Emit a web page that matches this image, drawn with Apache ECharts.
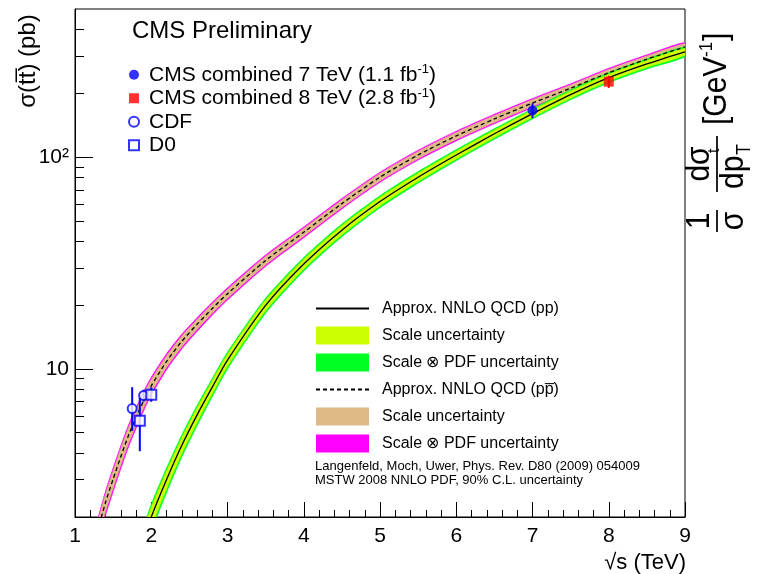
<!DOCTYPE html>
<html>
<head>
<meta charset="utf-8">
<script src="https://cdn.jsdelivr.net/npm/echarts@6/dist/echarts.min.js"></script>
<style>
  html, body { margin: 0; padding: 0; background: #fff; }
  #chart { width: 769px; height: 574px; }
</style>
</head>
<body>
<div id="chart"></div>
<script>
// Approx. NNLO QCD, p-pbar collisions: sqrt(s) in TeV, cross section in pb
const ppbarX = [1.25, 1.3, 1.4, 1.5, 1.6, 1.7, 1.8, 1.9, 2.0, 2.2, 2.4, 2.6, 2.8, 3.0, 3.5, 4.0, 4.5, 5.0, 5.5, 6.0, 6.5, 7.0, 7.5, 8.0, 8.5, 9.0];
const ppbarXsec = [1.48, 1.74, 2.34, 3.02, 3.85, 4.84, 5.89, 7.08, 8.32, 10.84, 13.49, 16.22, 19.28, 22.65, 32.5, 44.2, 60.3, 80.4, 102.3, 125.9, 151.4, 179.9, 211.3, 250.0, 289.7, 331.1];
// half-widths of the uncertainty bands, in percent of the central value
const ppbarScalePct = [9.4, 9.4, 9.4, 9.4, 9, 8.6, 8.1, 7.6, 7, 6.3, 5.8, 5.4, 5, 4.8, 4.5, 4.2, 4.1, 4, 3.9, 3.8, 3.7, 3.7, 3.6, 3.6, 3.5, 3.5];
const ppbarTotalPct = [13, 13, 13, 13, 12.5, 12, 11.3, 10.5, 9.8, 8.8, 8, 7.5, 7, 6.7, 6.2, 5.9, 5.7, 5.5, 5.4, 5.3, 5.2, 5.1, 5.0, 5.0, 4.9, 4.9];

// Approx. NNLO QCD, p-p collisions
const ppX = [1.85, 1.9, 2.0, 2.2, 2.4, 2.6, 2.8, 3.0, 3.5, 4.0, 4.5, 5.0, 5.5, 6.0, 6.5, 7.0, 7.5, 8.0, 8.5, 9.0];
const ppXsec = [1.32, 1.55, 2.0, 3.0, 4.35, 6.05, 8.2, 11.0, 19.95, 31.26, 45.19, 61.66, 80.35, 102.3, 128.8, 160.3, 197.2, 237.1, 275.4, 314.1];
const ppScalePct = [12, 11.2, 10.5, 9.5, 8.4, 7.7, 7, 6.5, 5.7, 5.2, 4.9, 4.6, 4.4, 4.2, 4.0, 3.9, 3.8, 3.7, 3.6, 3.5];
const ppTotalPct = [17, 16, 15, 13.5, 12, 11, 10, 9.3, 8.2, 7.5, 7, 6.6, 6.3, 6, 5.8, 5.6, 5.5, 5.4, 5.3, 5.2];

// Measurements: x position, cross section, upper and lower errors (pb)
const cms7X = [7.0],  cms7Y = [165.8], cms7Up = [13.3], cms7Down = [13.3];
const cms8X = [8.0],  cms8Y = [227.0], cms8Up = [15.0], cms8Down = [15.0];
const cdfX = [1.75, 1.90], cdfY = [6.5, 7.5],  cdfUp = [1.7, 0.48], cdfDown = [1.4, 0.48];
const d0X  = [1.85, 2.00], d0Y  = [5.69, 7.56], d0Up = [1.6, 0.63],  d0Down = [1.6, 0.56];

// Axis ticks
const xTicks = [1, 2, 3, 4, 5, 6, 7, 8, 9];
const yMajorTicks = [10, 100];
const yMinorTicks = [3, 4, 5, 6, 7, 8, 9, 20, 30, 40, 50, 60, 70, 80, 90, 200, 300, 400];

const FONT = 'Liberation Sans, Arial, Helvetica, sans-serif';
const BLUE = '#0000ff';

const names = {
  ppLine: 'Approx. NNLO QCD (pp)',
  ppScale: 'Scale uncertainty',
  ppTotal: 'Scale \u2297 PDF uncertainty',
  ppbarLine: 'Approx. NNLO QCD (pp\u0305)',
  ppbarScale: 'Scale uncertainty',
  ppbarTotal: 'Scale \u2297 PDF uncertainty'
};

function band(id, xs, ys, pct, color, z) {
  return {
    name: id, type: 'custom', coordinateSystem: 'cartesian2d', clip: true, z: z, silent: true,
    itemStyle: { color: color },
    data: [[xs[0], ys[0]]],
    renderItem: function (params, api) {
      const upper = xs.map((x, i) => api.coord([x, ys[i] * (1 + pct[i] / 100)]));
      const lower = xs.map((x, i) => api.coord([x, ys[i] * (1 - pct[i] / 100)])).reverse();
      return {
        type: 'polygon',
        shape: { points: upper.concat(lower), smooth: 0.25 },
        style: { fill: color, stroke: color, lineWidth: 0.6 }
      };
    }
  };
}

function errorBars(id, xs, ys, up, down, color, z) {
  return {
    name: id, type: 'custom', coordinateSystem: 'cartesian2d', z: z, silent: true,
    data: xs.map((x, i) => [x, ys[i] - down[i], ys[i] + up[i]]),
    renderItem: function (params, api) {
      const a = api.coord([api.value(0), api.value(1)]);
      const b = api.coord([api.value(0), api.value(2)]);
      return { type: 'line', shape: { x1: a[0], y1: a[1], x2: b[0], y2: b[1] }, style: { stroke: color, lineWidth: 2 } };
    }
  };
}

function points(id, xs, ys, symbol, size, color, z, extra) {
  return Object.assign({
    name: id, type: 'scatter', z: z, symbol: symbol, symbolSize: size,
    itemStyle: { color: color },
    data: xs.map((x, i) => [x, ys[i]])
  }, extra || {});
}

function curve(id, xs, ys, dash, z) {
  return {
    name: id, type: 'line', z: z, silent: true, showSymbol: false, symbol: 'none', smooth: 0.25,
    clip: true,
    lineStyle: { color: '#000', width: 1.3, type: dash },
    // marker colour is only used by the legend icon, keep it invisible
    itemStyle: { color: 'rgba(0,0,0,0)', borderWidth: 0 },
    data: xs.map((x, i) => [x, ys[i]])
  };
}

const chart = echarts.init(document.getElementById('chart'), null, { renderer: 'canvas' });

const option = {
  animation: false,
  backgroundColor: '#fff',
  textStyle: { fontFamily: FONT, color: '#000' },
  grid: { left: 75, top: 9, right: 84, bottom: 57, show: true, borderColor: '#000', borderWidth: 1, backgroundColor: 'transparent' },
  xAxis: {
    type: 'value', min: 1, max: 9, interval: 1,
    axisLine: { lineStyle: { color: '#000', width: 1 } },
    axisTick: { inside: true, length: 15, lineStyle: { color: '#000' } },
    minorTick: { show: true, splitNumber: 5, length: 7, lineStyle: { color: '#000' } },
    axisLabel: { color: '#000', fontSize: 21, fontFamily: FONT, margin: 9,
      formatter: v => (xTicks.indexOf(v) >= 0 ? String(v) : '') },
    splitLine: { show: false }
  },
  yAxis: [
    {
      type: 'log', logBase: 10, min: 2, max: 500,
      axisLine: { show: true, lineStyle: { color: '#000', width: 1 } },
      axisTick: { inside: true, length: 18, customValues: yMajorTicks, lineStyle: { color: '#000' } },
      axisLabel: { customValues: yMajorTicks, color: '#000', fontSize: 21, fontFamily: FONT, margin: 6,
        formatter: v => (Math.abs(v - 100) < 1e-6 ? '10\u00b2' : String(Math.round(v))) },
      splitLine: { show: false }
    },
    {
      type: 'log', logBase: 10, min: 2, max: 500, position: 'left',
      axisLine: { show: false },
      axisTick: { inside: true, length: 9, customValues: yMinorTicks, lineStyle: { color: '#000' } },
      axisLabel: { show: false },
      splitLine: { show: false }
    }
  ],
  legend: [
    {
      orient: 'vertical', left: 128, top: 63, padding: 0, itemWidth: 10, itemHeight: 10, itemGap: 0,
      selectedMode: false,
      textStyle: {
        fontFamily: FONT, fontSize: 21, color: '#000', lineHeight: 23.5, padding: [0, 0, 0, 5],
        rich: {
          t: { fontFamily: FONT, fontSize: 21, color: '#000', lineHeight: 23.5 },
          s: { fontFamily: FONT, fontSize: 13, color: '#000', lineHeight: 23.5, verticalAlign: 'top', padding: [0, 0, 4, 0] }
        }
      },
      data: [
        { name: 'cms7', icon: 'circle' },
        { name: 'cms8', icon: 'rect' },
        { name: 'cdf', icon: 'emptyCircle' },
        { name: 'd0', icon: 'emptyRect' }
      ],
      formatter: function (n) {
        if (n === 'cms7') return '{t|CMS combined 7 TeV (1.1 fb}{s|-1}{t|)}';
        if (n === 'cms8') return '{t|CMS combined 8 TeV (2.8 fb}{s|-1}{t|)}';
        if (n === 'cdf') return '{t|CDF}';
        return '{t|D0}';
      }
    },
    {
      orient: 'vertical', left: 315, top: 299.5, padding: 0, itemWidth: 53, itemHeight: 18, itemGap: 9,
      selectedMode: false,
      textStyle: { fontFamily: FONT, fontSize: 16, color: '#000', lineHeight: 18, padding: [0, 0, 0, 8] },
      data: [
        { name: 'ppLine' },
        { name: 'ppScale', icon: 'rect' },
        { name: 'ppTotal', icon: 'rect' },
        { name: 'ppbarLine' },
        { name: 'ppbarScale', icon: 'rect' },
        { name: 'ppbarTotal', icon: 'rect' }
      ],
      formatter: n => names[n]
    }
  ],
  series: [
    band('ppbarTotal', ppbarX, ppbarXsec, ppbarTotalPct, '#ff00ff', 1),
    band('ppbarScale', ppbarX, ppbarXsec, ppbarScalePct, '#deb887', 2),
    band('ppTotal', ppX, ppXsec, ppTotalPct, '#00ff22', 3),
    band('ppScale', ppX, ppXsec, ppScalePct, '#ccff00', 4),
    curve('ppbarLine', ppbarX, ppbarXsec, [4, 3], 5),
    curve('ppLine', ppX, ppXsec, 'solid', 6),
    errorBars('cdfErr', cdfX, cdfY, cdfUp, cdfDown, BLUE, 7),
    errorBars('d0Err', d0X, d0Y, d0Up, d0Down, BLUE, 7),
    errorBars('cms7Err', cms7X, cms7Y, cms7Up, cms7Down, BLUE, 7),
    errorBars('cms8Err', cms8X, cms8Y, cms8Up, cms8Down, '#ff0000', 7),
    points('cdf', cdfX, cdfY, 'emptyCircle', 9, BLUE, 8, { itemStyle: { color: BLUE, borderWidth: 1.8 } }),
    points('d0', d0X, d0Y, 'emptyRect', 10, BLUE, 8, { itemStyle: { color: BLUE, borderWidth: 1.6 } }),
    points('cms7', cms7X, cms7Y, 'circle', 10, BLUE, 9),
    points('cms8', cms8X, cms8Y, 'rect', 10, '#ff0000', 9)
  ],
  graphic: [
    { type: 'text', x: 28, y: 61, rotation: Math.PI / 2,
      style: { text: 'σ(tt\u0305) (pb)', fontFamily: FONT, fontSize: 24, fill: '#000', align: 'center', verticalAlign: 'middle' } },
    { type: 'text', x: 132, y: 31,
      style: { text: 'CMS Preliminary', fontFamily: FONT, fontSize: 24, fill: '#000', align: 'left', verticalAlign: 'middle' } },
    { type: 'text', x: 686, y: 563,
      style: { text: '\u221As (TeV)', fontFamily: FONT, fontSize: 22, fill: '#000', align: 'right', verticalAlign: 'middle' } },
    { type: 'text', x: 315, y: 466,
      style: { text: 'Langenfeld, Moch, Uwer, Phys. Rev. D80 (2009) 054009', fontFamily: FONT, fontSize: 13, fill: '#000', verticalAlign: 'middle' } },
    { type: 'text', x: 315, y: 480,
      style: { text: 'MSTW 2008 NNLO PDF, 90% C.L. uncertainty', fontFamily: FONT, fontSize: 13, fill: '#000', verticalAlign: 'middle' } },
    // normalised differential cross section label on the right edge
    { type: 'group', x: 717, y: 232, rotation: Math.PI / 2, scaleX: 1, scaleY: 1.08,
      children: [
        { type: 'text', x: 11, y: -1, style: { text: '1', fontFamily: FONT, fontSize: 30, fill: '#000', align: 'center', verticalAlign: 'bottom' } },
        { type: 'line', shape: { x1: 0, y1: 0, x2: 22, y2: 0 }, style: { stroke: '#000', lineWidth: 1.6 } },
        { type: 'text', x: 11, y: 1, style: { text: 'σ', fontFamily: FONT, fontSize: 30, fill: '#000', align: 'center', verticalAlign: 'top' } },
        { type: 'text', x: 68, y: -1, style: { text: 'dσ', fontFamily: FONT, fontSize: 30, fill: '#000', align: 'center', verticalAlign: 'bottom' } },
        { type: 'line', shape: { x1: 40, y1: 0, x2: 96, y2: 0 }, style: { stroke: '#000', lineWidth: 1.6 } },
        { type: 'text', x: 43, y: 1, style: { text: 'dp', fontFamily: FONT, fontSize: 30, fill: '#000', align: 'left', verticalAlign: 'top' } },
        { type: 'text', x: 77, y: 17, style: { text: 'T', fontFamily: FONT, fontSize: 18, fill: '#000', align: 'left', verticalAlign: 'top' } },
        { type: 'text', x: 79, y: 5, style: { text: 't', fontFamily: FONT, fontSize: 16, fill: '#000', align: 'left', verticalAlign: 'bottom' } },
        { type: 'text', x: 107, y: 0, style: { text: '[GeV', fontFamily: FONT, fontSize: 30, fill: '#000', align: 'left', verticalAlign: 'middle' } },
        { type: 'text', x: 175, y: -9, style: { text: '-1', fontFamily: FONT, fontSize: 17, fill: '#000', align: 'left', verticalAlign: 'middle' } },
        { type: 'text', x: 191, y: 0, style: { text: ']', fontFamily: FONT, fontSize: 30, fill: '#000', align: 'left', verticalAlign: 'middle' } }
      ]
    }
  ]
};

chart.setOption(option);
</script>
</body>
</html>
